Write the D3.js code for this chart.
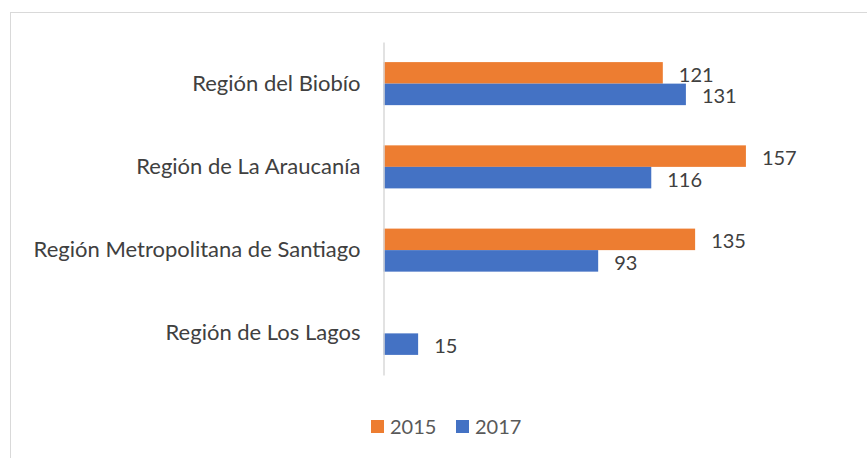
<!DOCTYPE html>
<html>
<head>
<meta charset="utf-8">
<script src="https://cdn.jsdelivr.net/npm/d3@7"></script>
<style>
  body { margin: 0; background: #fff; }
  text { font-family: Lato, "Open Sans", sans-serif; }
</style>
</head>
<body>
<svg id="chart" width="867" height="458"></svg>
<script>
// data
var regions = ['Región del Biobío', 'Región de La Araucanía', 'Región Metropolitana de Santiago', 'Región de Los Lagos'];
var years = ['2015', '2017'];
var values2015 = [121, 157, 135, null];
var values2017 = [131, 116, 93, 15];
var colors = ['#ED7D31', '#4472C4'];

var svg = d3.select('#chart');
var width = +svg.attr('width');
var height = +svg.attr('height');

// chart frame
svg.append('rect')
  .attr('x', 10.5).attr('y', 12.5)
  .attr('width', width).attr('height', height)
  .attr('fill', 'none')
  .attr('stroke', '#d9d9d9');

var x = d3.scaleLinear()
  .domain([0, 180])
  .range([383.5, 799]);

var y0 = d3.scaleBand()
  .domain(regions)
  .range([42, 375])
  .paddingInner(0.483)
  .paddingOuter(0.2415);

var y1 = d3.scaleBand()
  .domain(years)
  .range([0, y0.bandwidth()]);

var color = d3.scaleOrdinal().domain(years).range(colors);

var rows = regions.map(function(r, i) {
  return { region: r, vals: [
    { year: '2015', v: values2015[i] },
    { year: '2017', v: values2017[i] }
  ].filter(function(d) { return d.v != null; }) };
});

var groups = svg.selectAll('g.region')
  .data(rows)
  .enter().append('g')
  .attr('class', 'region')
  .attr('transform', function(d) { return 'translate(0,' + y0(d.region) + ')'; });

groups.selectAll('rect')
  .data(function(d) { return d.vals; })
  .enter().append('rect')
  .attr('x', x(0))
  .attr('y', function(d) { return y1(d.year); })
  .attr('width', function(d) { return x(d.v) - x(0); })
  .attr('height', y1.bandwidth())
  .attr('fill', function(d) { return color(d.year); });

groups.selectAll('text.val')
  .data(function(d) { return d.vals; })
  .enter().append('text')
  .attr('class', 'val')
  .attr('x', function(d) { return x(d.v) + 16; })
  .attr('y', function(d) { return y1(d.year) + y1.bandwidth() / 2 + 2; })
  .attr('dy', '0.35em')
  .attr('fill', '#404040')
  .style('font-size', '20px')
  .text(function(d) { return d.v; });

// category axis
var yAxis = d3.axisLeft(y0).tickSize(0).tickPadding(23);
var ga = svg.append('g')
  .attr('transform', 'translate(' + x(0) + ',0)')
  .call(yAxis);
ga.select('.domain').attr('stroke', '#d9d9d9').attr('stroke-width', 1.5);
ga.selectAll('text')
  .attr('fill', '#404040')
  .style('font-size', '22px')
  .style('font-family', 'Lato, "Open Sans", sans-serif');

// legend
var legend = svg.append('g').attr('transform', 'translate(371,420)');
var lx = [0, 85];
years.forEach(function(yr, i) {
  var item = legend.append('g').attr('transform', 'translate(' + lx[i] + ',0)');
  item.append('rect').attr('width', 13).attr('height', 13).attr('fill', color(yr));
  item.append('text')
    .attr('x', 19).attr('y', 7)
    .attr('dy', '0.35em')
    .attr('fill', '#595959')
    .style('font-size', '20px')
    .text(yr);
});
</script>
</body>
</html>
